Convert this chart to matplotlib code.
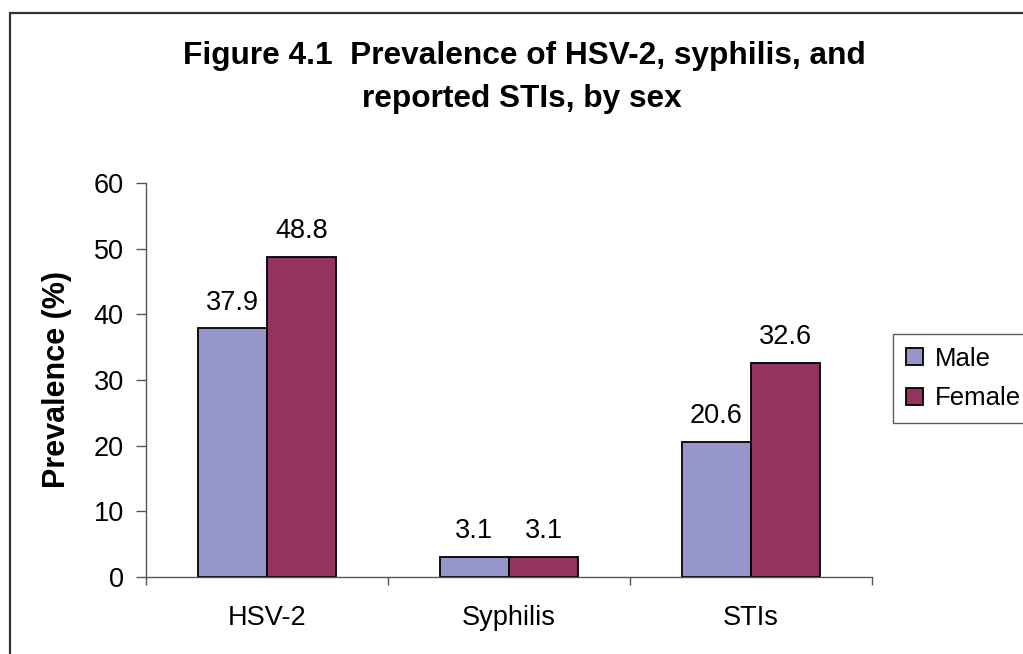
import numpy as np
import matplotlib
matplotlib.use('Agg')
import matplotlib.pyplot as plt
from matplotlib.patches import Rectangle

plt.rcParams['font.family'] = ['Liberation Sans', 'DejaVu Sans']

categories = ['HSV-2', 'Syphilis', 'STIs']
male = [37.9, 3.1, 20.6]
female = [48.8, 3.1, 32.6]
series_names = ['Male', 'Female']
male_color = '#9696CA'
female_color = '#953360'

W, H = 1023, 654
fig = plt.figure(figsize=(W / 100, H / 100), dpi=100)

# outer chart border (runs off right and bottom edge)
fig.patches.append(Rectangle((10 / W, -0.05), 1.2, 1 - 13 / H + 0.05, transform=fig.transFigure,
                             fill=False, edgecolor='#333333', linewidth=1.6))

ax = fig.add_axes([146 / W, 1 - 577 / H, (872 - 146) / W, (577 - 183) / H])

x = np.arange(len(categories))
bw = 0.286
b1 = ax.bar(x - bw / 2, male, bw, color=male_color, edgecolor='black', linewidth=1.3, label=series_names[0])
b2 = ax.bar(x + bw / 2, female, bw, color=female_color, edgecolor='black', linewidth=1.3, label=series_names[1])

for bars, vals in ((b1, male), (b2, female)):
    for rect, v in zip(bars, vals):
        ax.annotate(f'{v:.1f}', (rect.get_x() + rect.get_width() / 2, v), xytext=(0, 9),
                    textcoords='offset points', ha='center', va='bottom', fontsize=19.5)

ax.set_xlim(-0.5, len(categories) - 0.5)
ax.set_ylim(0, 60)
ax.set_yticks(range(0, 61, 10))
ax.set_xticks(x)
ax.set_xticklabels(categories)
ax.set_xticks(np.arange(-0.5, len(categories), 1), minor=True)
ax.tick_params(axis='x', which='major', length=0, pad=20, labelsize=19.5)
ax.tick_params(axis='x', which='minor', length=6, width=1, color='#555555', direction='out')
ax.tick_params(axis='y', length=7, width=1, color='#555555', pad=9, labelsize=19.5)

for s in ('top', 'right'):
    ax.spines[s].set_visible(False)
for s in ('left', 'bottom'):
    ax.spines[s].set_color('#555555')
    ax.spines[s].set_linewidth(1)

ax.set_ylabel('Prevalence (%)', fontsize=22, fontweight='bold')
ax.yaxis.set_label_coords(-0.102, 0.5)

fig.text(524 / W, 1 - 64 / H, 'Figure 4.1  Prevalence of HSV-2, syphilis, and', ha='center', va='baseline',
         fontsize=22.8, fontweight='bold')
fig.text(522 / W, 1 - 107 / H, 'reported STIs, by sex', ha='center', va='baseline',
         fontsize=22.8, fontweight='bold')

leg = fig.legend(handles=[b1, b2], loc='upper left', bbox_to_anchor=(893 / W, 1 - 334 / H),
                 fontsize=18.5, frameon=True, fancybox=False, handlelength=0.66, handleheight=0.66,
                 handletextpad=0.47, borderpad=0.5, labelspacing=0.6, borderaxespad=0)
leg.get_frame().set_edgecolor('#333333')
leg.get_frame().set_linewidth(1)

fig.savefig('out.png', dpi=100)
